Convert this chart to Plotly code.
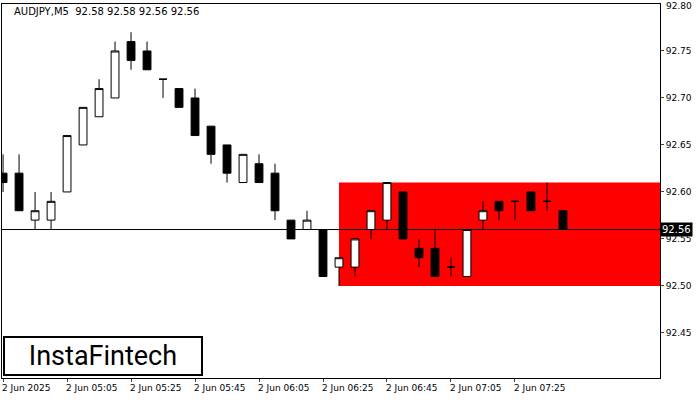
import plotly.graph_objects as go
import pandas as pd

times = pd.date_range("2025-06-02 04:45", periods=36, freq="5min")
opens  = [92.62,92.62,92.57,92.57,92.60,92.65,92.68,92.70,92.76,92.75,92.72,92.71,92.70,92.67,92.65,92.61,92.63,92.62,92.57,92.56,
          92.56,92.52,92.52,92.56,92.57,92.60,92.54,92.54,92.52,92.51,92.57,92.59,92.59,92.60,92.59,92.58]
highs  = [92.64,92.64,92.60,92.60,92.66,92.69,92.72,92.76,92.77,92.76,92.72,92.71,92.71,92.67,92.65,92.64,92.64,92.63,92.57,92.58,
          92.56,92.53,92.55,92.58,92.61,92.60,92.55,92.56,92.53,92.56,92.59,92.59,92.59,92.60,92.61,92.58]
lows   = [92.60,92.58,92.56,92.56,92.60,92.65,92.68,92.70,92.73,92.73,92.70,92.69,92.66,92.63,92.61,92.61,92.61,92.57,92.55,92.56,
          92.51,92.50,92.51,92.55,92.56,92.55,92.52,92.51,92.51,92.51,92.56,92.57,92.57,92.58,92.58,92.56]
closes = [92.61,92.58,92.58,92.59,92.66,92.69,92.71,92.75,92.74,92.73,92.72,92.69,92.66,92.64,92.62,92.64,92.61,92.58,92.55,92.57,
          92.51,92.53,92.55,92.58,92.61,92.55,92.53,92.51,92.52,92.56,92.58,92.58,92.59,92.58,92.59,92.56]

tick_vals = pd.date_range("2025-06-02 04:45", periods=9, freq="20min")
tick_text = ["2 Jun 2025","2 Jun 05:05","2 Jun 05:25","2 Jun 05:45","2 Jun 06:05","2 Jun 06:25","2 Jun 06:45","2 Jun 07:05","2 Jun 07:25"]
y_ticks = [92.45,92.50,92.55,92.60,92.65,92.70,92.75]
y_top = 92.80
zone_start, zone_low, zone_high = "2025-06-02 06:30", 92.50, 92.61
current = 92.56

x0 = pd.Timestamp("2025-06-02 04:44:40"); x1 = pd.Timestamp("2025-06-02 08:10:20")

fig = go.Figure()
fig.add_shape(type="rect", x0=zone_start, x1=x1, y0=zone_low, y1=zone_high,
              fillcolor="#ff0000", line_width=0, layer="below")
fig.add_trace(go.Candlestick(x=times, open=opens, high=highs, low=lows, close=closes,
    increasing=dict(fillcolor="white", line=dict(color="black", width=1)),
    decreasing=dict(fillcolor="black", line=dict(color="black", width=1)),
    whiskerwidth=0, showlegend=False, hoverinfo="skip"))
fig.add_hline(y=current, line=dict(color="black", width=1))
fig.add_annotation(x=1, xref="paper", xanchor="left", y=current, text="92.56", showarrow=False,
                   bgcolor="black", font=dict(color="white", size=10, family="DejaVu Sans"), borderpad=1)
fig.add_annotation(x=1, xref="paper", xanchor="left", xshift=4, y=y_top, yanchor="top", yshift=5,
                   text=f"{y_top:.2f}", showarrow=False, font=dict(size=9, family="DejaVu Sans", color="black"))
fig.add_annotation(x=0.015, xref="paper", y=1, yref="paper", xanchor="left", yanchor="top",
                   text="AUDJPY,M5  92.58 92.58 92.56 92.56", showarrow=False,
                   font=dict(size=10, family="DejaVu Sans", color="black"))
for tv, tt in zip(tick_vals, tick_text):
    fig.add_annotation(x=tv, y=0, yref="paper", xanchor="left", yanchor="top", yshift=-3, xshift=-3,
                       text=tt, showarrow=False, font=dict(size=9, family="DejaVu Sans", color="black"))
fig.add_annotation(x=0.002, xref="paper", y=0.005, yref="paper", xanchor="left", yanchor="bottom",
                   text="InstaFintech", showarrow=False, bgcolor="white", bordercolor="black", borderwidth=2,
                   font=dict(size=27, family="Roboto", color="black"), borderpad=2, width=192)
fig.update_layout(width=700, height=400, margin=dict(l=2, r=40, t=4, b=22),
    plot_bgcolor="white", paper_bgcolor="white",
    xaxis=dict(range=[x0, x1], rangeslider=dict(visible=False), tickvals=tick_vals, showticklabels=False,
               showgrid=False, showline=True, linecolor="black", mirror=True, ticks="outside", ticklen=3),
    yaxis=dict(range=[92.402, y_top], side="right", tickvals=y_ticks, ticktext=[f"{v:.2f}" for v in y_ticks],
               showgrid=False, showline=True, linecolor="black", mirror=True, ticks="outside", ticklen=3,
               tickfont=dict(size=9, family="DejaVu Sans", color="black")))
fig.write_html("out.html", post_script="document.body.style.margin='0';", config={"displayModeBar": False})
